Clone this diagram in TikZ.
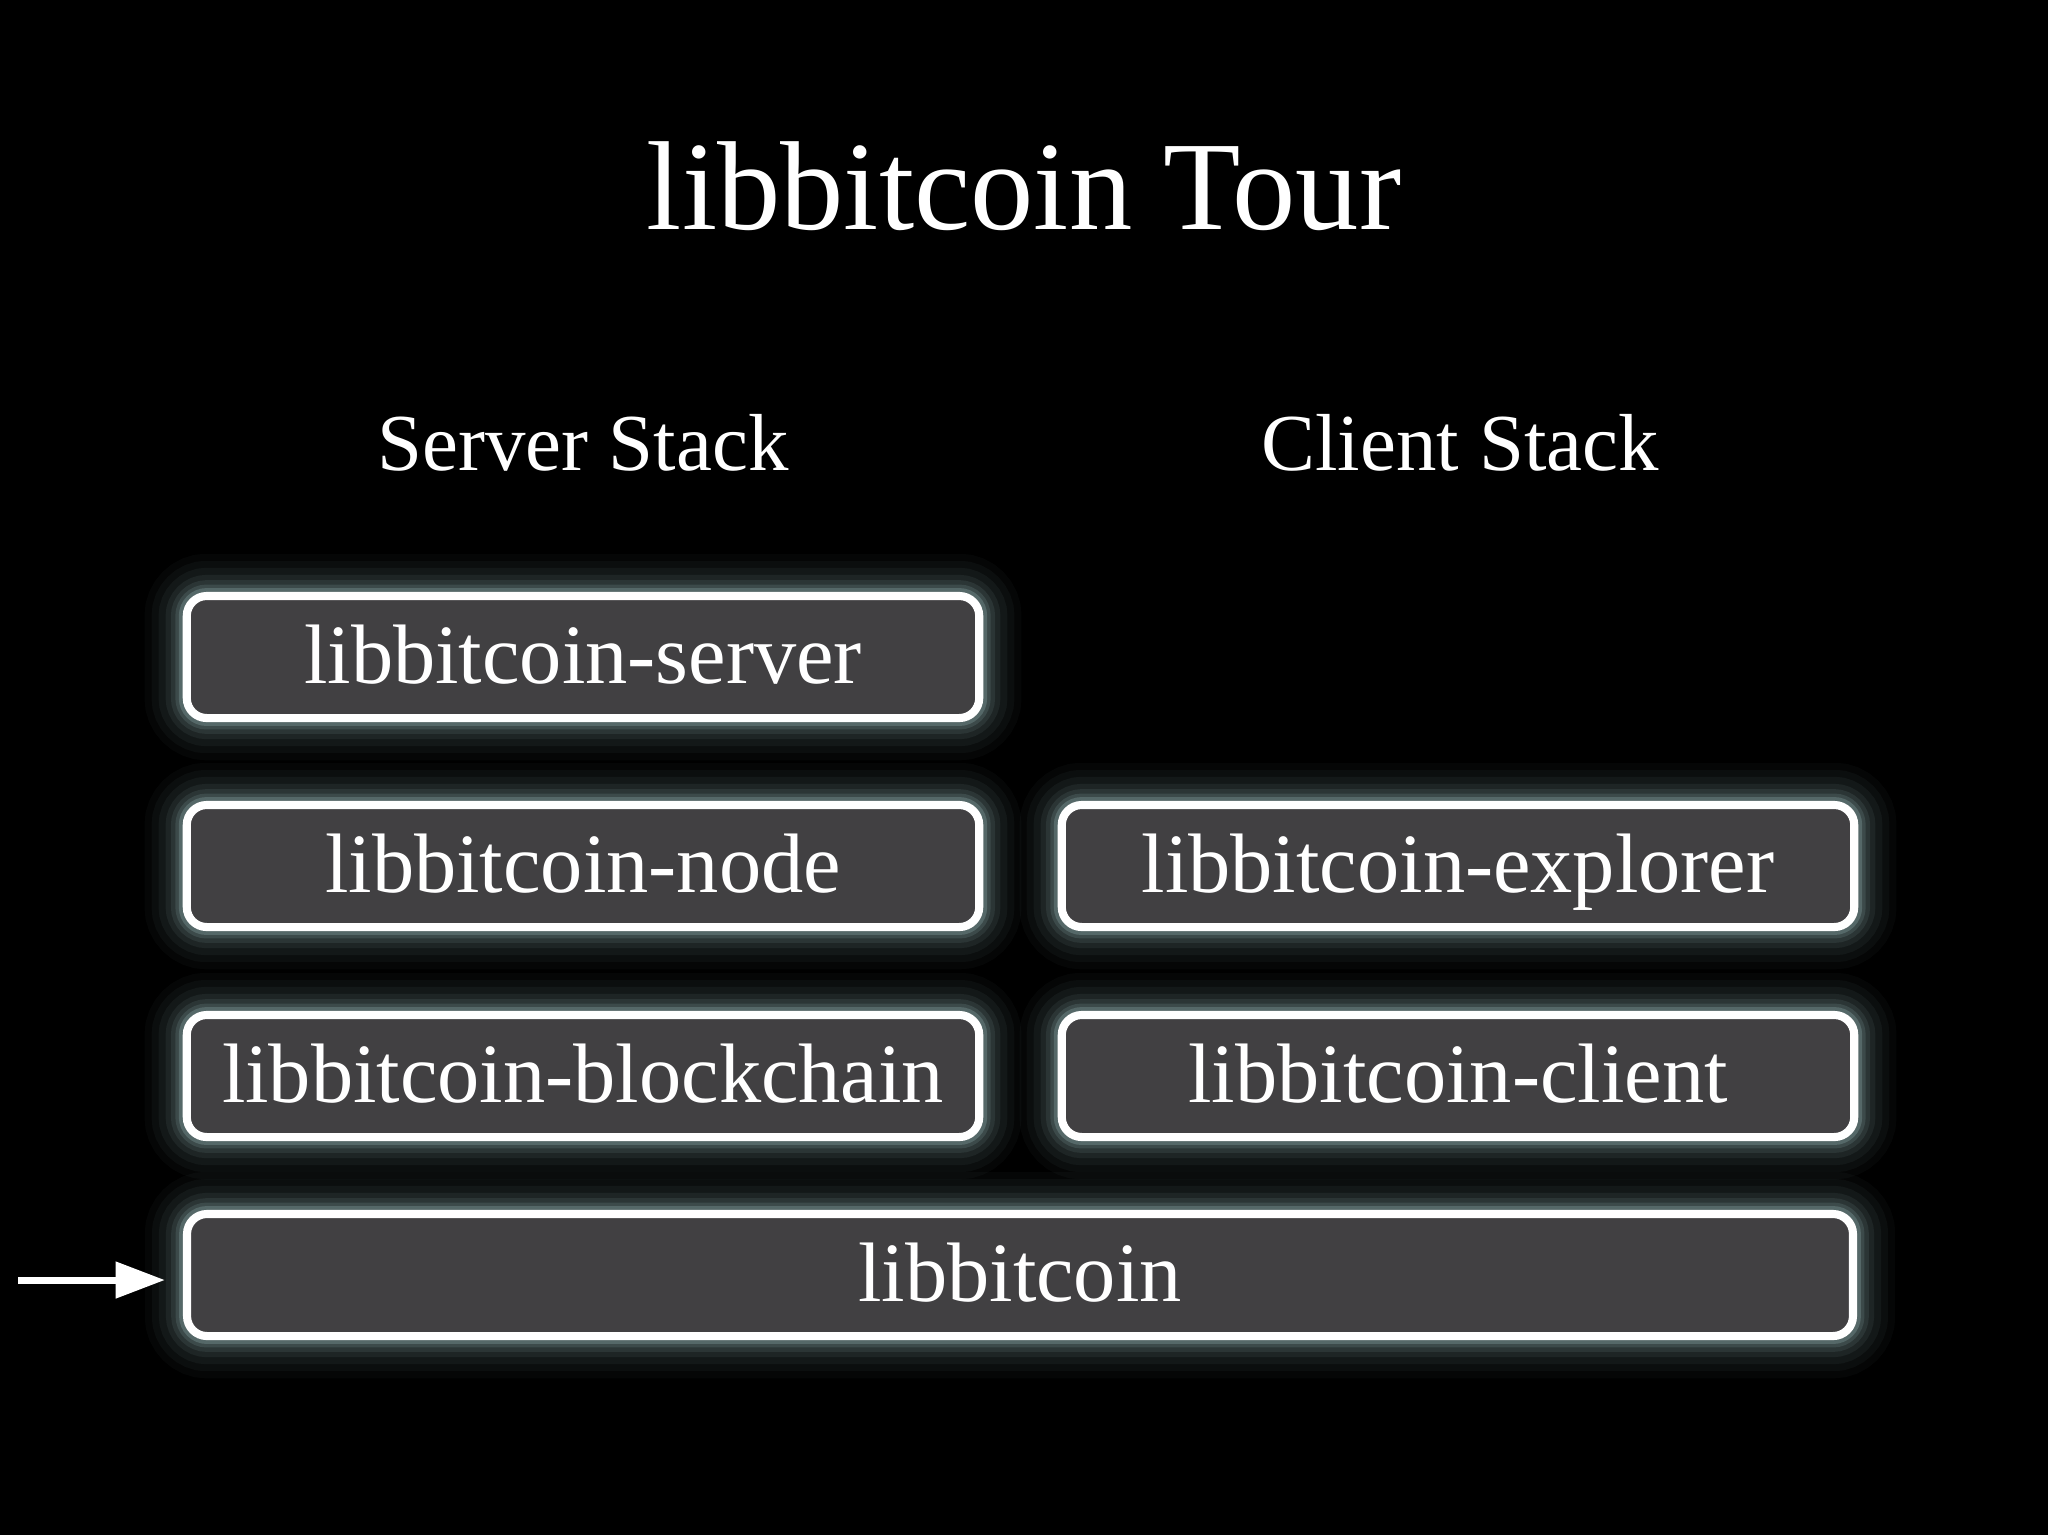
\documentclass[tikz,border=0pt]{standalone}
\usepackage{fontspec}
\setmainfont{Liberation Serif}
\usepackage{xcolor}
\usetikzlibrary{arrows.meta, positioning}
\definecolor{boxfill}{RGB}{65,64,66}
\definecolor{glowc}{RGB}{160,195,195}

\tikzset{
    glow/.style={
        preaction={draw=glowc, line width=24pt, opacity=0.035},
        preaction={draw=glowc, line width=20pt, opacity=0.045},
        preaction={draw=glowc, line width=16pt, opacity=0.06},
        preaction={draw=glowc, line width=12pt, opacity=0.08},
        preaction={draw=glowc, line width=9pt, opacity=0.1},
        preaction={draw=glowc, line width=6.5pt, opacity=0.15},
        preaction={draw=glowc, line width=4.5pt, opacity=0.25}
    },
    libbox/.style={glow, draw=white, fill=boxfill, line width=2.3pt,
        rounded corners=0.2cm, minimum width=7.92cm, minimum height=1.22cm,
        inner sep=0pt, text=white, text height=0.6cm, text depth=0.08cm,
        font=\fontsize{24}{28}\selectfont},
    stacklabel/.style={text=white, anchor=base, font=\fontsize{23}{27}\selectfont}
}

\begin{document}
\begin{tikzpicture}[x=0.01cm, y=-0.01cm]
    % Background
    \fill[black] (0,0) rectangle (2048,1535);
    \useasboundingbox (0,0) rectangle (2048,1535);

        % Title
        \node[text=white, anchor=base, font=\fontsize{36}{40}\selectfont] (title) at (1024,229) {libbitcoin Tour};

        % Stack labels
        \node[stacklabel] (srvlabel) at (583,470) {Server Stack};
        \node[stacklabel] (clilabel) at (1460,470) {Client Stack};

        % Server stack
        \node[libbox] (srv) at (583,657) {libbitcoin-server};
        \node[libbox] (nd) at (583,866) {libbitcoin-node};
        \node[libbox] (bc) at (583,1076) {libbitcoin-blockchain};

        % Client stack
        \node[libbox] (expl) at (1458,866) {libbitcoin-explorer};
        \node[libbox] (cli) at (1458,1076) {libbitcoin-client};

        % Base library
        \node[libbox, minimum width=16.65cm] (lib) at (1020,1275) {libbitcoin};

        % Pointer
        \coordinate (ptr) at (18,1280);
        \draw[white, line width=2pt, -{Triangle[length=14pt, width=10pt]}, shorten >=0.18cm] (ptr) -- (ptr -| lib.west);
\end{tikzpicture}
\end{document}
